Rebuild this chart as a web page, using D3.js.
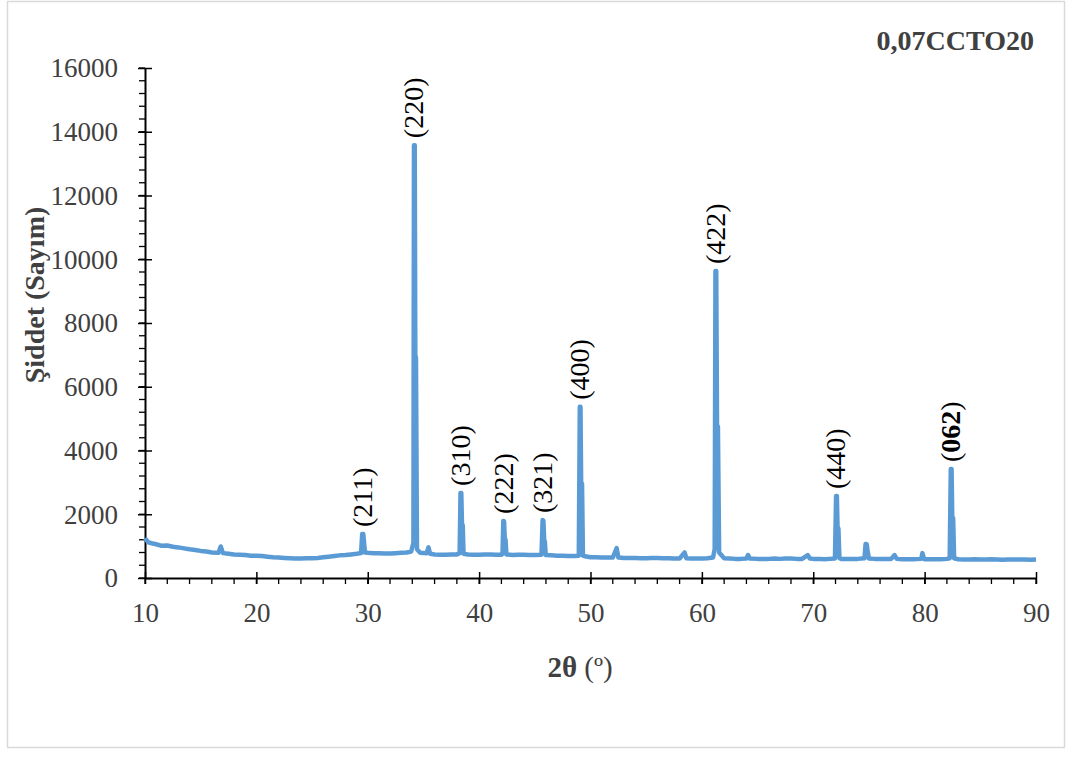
<!DOCTYPE html>
<html><head><meta charset="utf-8">
<script src="https://cdn.jsdelivr.net/npm/d3@7"></script>
<style>body{margin:0;background:#fff}svg{display:block}</style>
</head><body>
<svg id="c" width="1070" height="758"></svg>
<script>
// [2θ, intensity] readings, split into four ranges
const scan10to30 = [[10,1250],[10.3,1120],[10.6,1090],[11,1060],[11.5,1010],[12,1020],[12.5,980],[13,960],[13.5,930],[14,900],[14.5,880],[15,850],[15.5,830],[16,800],[16.6,790],[16.8,990],[17.0,780],[17.5,760],[18,740],[18.5,730],[19,720],[19.5,700],[20,700],[20.5,690],[21,670],[21.5,650],[22,640],[22.5,630],[23,620],[23.5,610],[24,610],[24.5,620],[25,620],[25.5,630],[26,650],[26.5,670],[27,690],[27.5,710],[28,720],[28.5,740],[29,760],[29.4,780],[29.5,1380],[29.6,1380],[29.75,800]];
const scan30to50 = [[30,790],[30.5,780],[31,780],[31.5,770],[32,770],[32.5,780],[33,790],[33.5,800],[33.9,830],[34.1,1100],[34.15,13580],[34.22,13580],[34.27,7000],[34.33,6900],[34.42,900],[34.7,790],[35.3,780],[35.45,960],[35.6,760],[36,740],[36.5,730],[37,730],[37.5,740],[38,740],[38.25,780],[38.33,2670],[38.4,2670],[38.46,1700],[38.53,1650],[38.6,760],[39,740],[39.5,730],[40,730],[40.5,740],[41,740],[41.5,730],[42,730],[42.1,760],[42.17,1790],[42.24,1780],[42.3,1250],[42.37,1200],[42.45,740],[43,720],[43.5,730],[44,730],[44.5,720],[45,720],[45.6,730],[45.7,1820],[45.77,1800],[45.84,1200],[45.9,1150],[45.98,720],[46.5,710],[47,700],[47.5,700],[48,690],[48.5,690],[48.95,700],[49.04,5370],[49.1,5370],[49.16,3000],[49.24,2950],[49.32,700],[49.5,680]];
const scan50to70 = [[50,650],[50.5,650],[51,640],[51.5,640],[52,640],[52.35,940],[52.5,640],[53,630],[53.5,630],[54,630],[54.5,620],[55,620],[55.5,630],[56,630],[56.5,620],[57,620],[57.5,610],[58,610],[58.45,800],[58.6,620],[59,610],[59.5,610],[60,610],[60.5,620],[61,640],[61.15,900],[61.22,9630],[61.29,9630],[61.36,4800],[61.44,4750],[61.55,800],[62,620],[62.5,610],[63,600],[63.5,600],[64,610],[64.15,720],[64.3,610],[65,600],[65.5,600],[66,600],[66.5,610],[67,600],[67.5,610],[68,610],[68.5,600],[69,600],[69.5,720],[69.7,610]];
const scan70to90 = [[70,600],[70.5,600],[71,590],[71.5,600],[71.95,610],[72.05,2570],[72.12,2570],[72.18,1600],[72.26,1550],[72.35,620],[72.5,600],[73,600],[73.5,600],[74,600],[74.6,620],[74.7,1070],[74.8,1060],[74.88,850],[75.0,610],[75.5,600],[76,600],[76.5,600],[77,600],[77.3,720],[77.5,600],[78,590],[78.5,590],[79,590],[79.7,600],[79.8,780],[79.95,600],[80,590],[80.5,590],[81,590],[81.5,590],[82,600],[82.25,620],[82.35,3420],[82.42,3420],[82.48,1920],[82.56,1880],[82.65,620],[83,590],[83.5,580],[84,580],[84.5,590],[85,580],[85.5,580],[86,590],[86.5,580],[87,570],[87.5,580],[88,580],[88.5,580],[89,580],[89.5,570],[90,580]];
const xTicks = [10,20,30,40,50,60,70,80,90];
const yTicks = [0,2000,4000,6000,8000,10000,12000,14000,16000];
const peakTheta = [29.55,34.18,38.37,42.2,45.73,49.07,61.25,72.08,82.38];
const peakValue = [1380,13580,2670,1790,1820,5370,9630,2570,3420];
const peakLabel = ["211","220","310","222","321","400","422","440","062"];
const peakBold = [false,false,false,false,false,false,false,false,true];

const scan = scan10to30.concat(scan30to50, scan50to70, scan70to90);

const svg = d3.select("#c");
const font = "'Liberation Serif','Times New Roman',serif";
svg.append("rect").attr("x",7.5).attr("y",1.5).attr("width",1057).attr("height",746)
  .attr("fill","#fff").attr("stroke","#d9d9d9").attr("stroke-width",1.5);

const x = d3.scaleLinear().domain([10,90]).range([145,1036]);
const y = d3.scaleLinear().domain([0,16000]).range([578,68]);

const g = svg.append("g");
const xMinor = d3.range(10,90.01,2);
g.selectAll(".xm").data(xMinor).enter().append("line")
  .attr("x1",d=>x(d)).attr("x2",d=>x(d)).attr("y1",578).attr("y2",584)
  .attr("stroke","#000").attr("stroke-width",1.3);
const yMinor = d3.range(0,16001,400);
g.selectAll(".ym").data(yMinor).enter().append("line")
  .attr("x1",139).attr("x2",145).attr("y1",d=>y(d)).attr("y2",d=>y(d))
  .attr("stroke","#000").attr("stroke-width",1.3);

const xAxis = svg.append("g").attr("transform","translate(0,578)")
  .call(d3.axisBottom(x).tickValues(xTicks).tickSize(6).tickSizeOuter(0));
xAxis.selectAll(".tick line").attr("y1",-6).attr("y2",6).attr("stroke-width",1.5);
xAxis.select(".domain").attr("stroke-width",2);
xAxis.selectAll("text").attr("font-family",font).attr("font-size",27).attr("fill","#404040").attr("dy",null).attr("y",44);

const yAxis = svg.append("g").attr("transform","translate(145,0)")
  .call(d3.axisLeft(y).tickValues(yTicks).tickFormat(d3.format("d")).tickSize(7).tickSizeOuter(0));
yAxis.selectAll(".tick line").attr("x1",-7).attr("x2",7).attr("stroke-width",1.5);
yAxis.select(".domain").attr("stroke-width",2);
yAxis.selectAll("text").attr("font-family",font).attr("font-size",27).attr("fill","#404040").attr("dy","0.33em").attr("x",-27);

const line = d3.line().x(d=>x(d[0])).y(d=>y(d[1]));
svg.append("path").datum(scan).attr("d",line).attr("fill","none")
  .attr("stroke","#5b9bd5").attr("stroke-width",4.5).attr("stroke-linejoin","round");

peakTheta.forEach((t,i)=>{
  const px = x(t)+9, py = y(peakValue[i])-7;
  const tx = svg.append("text").attr("transform",`translate(${px},${py}) rotate(-90)`)
    .attr("font-family",font).attr("font-size",28).attr("fill","#000");
  tx.append("tspan").text("(");
  tx.append("tspan").attr("font-weight",peakBold[i]?"bold":"normal").text(peakLabel[i]);
  tx.append("tspan").text(")");
});

svg.append("text").attr("x",1034).attr("y",50).attr("text-anchor","end")
  .attr("font-family",font).attr("font-size",28).attr("font-weight","bold").attr("fill","#404040").text("0,07CCTO20");

svg.append("text").attr("transform","translate(44,295) rotate(-90)").attr("text-anchor","middle")
  .attr("font-family",font).attr("font-size",28).attr("font-weight","bold").attr("fill","#404040").text("Şiddet (Sayım)");

const xt = svg.append("text").attr("x",580).attr("y",677).attr("text-anchor","middle")
  .attr("font-family",font).attr("font-size",29).attr("fill","#404040");
xt.append("tspan").attr("font-weight","bold").text("2θ");
xt.append("tspan").text(" (º)");
</script>
</body></html>
